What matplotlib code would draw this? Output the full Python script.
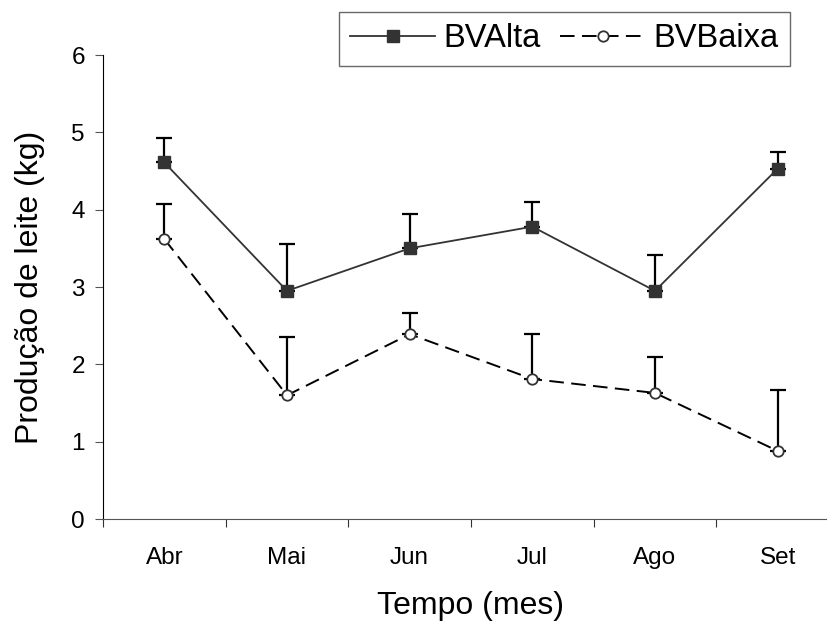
import matplotlib
matplotlib.use("Agg")
import matplotlib.pyplot as plt
import numpy as np

plt.rcParams['font.family'] = ['Liberation Sans', 'DejaVu Sans']

# dados
meses = ['Abr', 'Mai', 'Jun', 'Jul', 'Ago', 'Set']
bv_alta = [4.61, 2.95, 3.50, 3.78, 2.95, 4.53]
bv_alta_erro = [0.32, 0.61, 0.44, 0.32, 0.46, 0.22]
bv_baixa = [3.62, 1.60, 2.39, 1.81, 1.63, 0.88]
bv_baixa_erro = [0.45, 0.75, 0.28, 0.58, 0.46, 0.79]

x = np.arange(len(meses))

fig = plt.figure(figsize=(8.28, 6.24), dpi=100)
ax = fig.add_axes([103 / 828, 105 / 624, 736 / 828, 464 / 624])

# barras de erro so para cima
zeros = np.zeros(len(x))
ax.errorbar(x, bv_alta, yerr=[zeros, bv_alta_erro], fmt='none',
            ecolor='black', elinewidth=1.6, capsize=5.5, capthick=1.6, zorder=2)
ax.errorbar(x, bv_baixa, yerr=[zeros, bv_baixa_erro], fmt='none',
            ecolor='black', elinewidth=1.6, capsize=5.5, capthick=1.6, zorder=2)

ax.plot(x, bv_alta, color='#333333', linewidth=1.3, marker='s', markersize=8,
        markerfacecolor='#333333', markeredgecolor='#333333', label='BVAlta', zorder=3)
ax.plot(x, bv_baixa, color='black', linewidth=1.4, linestyle=(0, (7.5, 3.8)), marker='o',
        markersize=7.5, markerfacecolor='white', markeredgecolor='#333333',
        markeredgewidth=1.3, label='BVBaixa', zorder=3)

ax.set_xlim(-0.5, 5.5)
ax.set_ylim(0, 6)
ax.set_xticks(np.arange(-0.5, 6, 1))
ax.set_xticklabels([])
ax.set_xticks(x, minor=True)
ax.set_xticklabels(meses, minor=True)
ax.tick_params(axis='x', which='minor', length=0, pad=20, labelsize=17.5)
ax.tick_params(axis='x', which='major', length=6, direction='out', color='#333333')
ax.set_yticks(range(7))
ax.tick_params(axis='y', labelsize=17.5, length=6, direction='out', color='#555555', pad=7)

ax.spines['top'].set_visible(False)
ax.spines['right'].set_visible(False)
ax.spines['bottom'].set_color('#555555')
ax.spines['left'].set_color('black')

ax.set_xlabel('Tempo (mes)', fontsize=23, labelpad=16)
ax.set_ylabel('Produção de leite (kg)', fontsize=23, labelpad=19)

fig.legend(loc='upper left', bbox_to_anchor=(339 / 828, 1 - 12 / 624), ncol=2,
           fontsize=23.5, frameon=True, fancybox=False, edgecolor='#444444',
           handlelength=2.6, columnspacing=0.6, handletextpad=0.25, borderpad=0.35,
           borderaxespad=0)

fig.savefig('out.png', dpi=100)
